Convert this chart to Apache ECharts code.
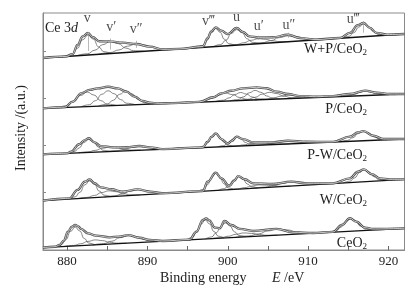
<!DOCTYPE html>
<html><head><meta charset="utf-8">
<script src="https://cdn.jsdelivr.net/npm/echarts@6/dist/echarts.min.js"></script>
<style>html,body{margin:0;padding:0;background:#fff}#c{width:413px;height:290px}</style>
</head><body><div id="c"></div>
<script>
// ---------------- DATA (binding energy eV, intensity a.u.) ----------------
const xTickLabels = [880, 890, 900, 910, 920];
const xTickMarks = [880, 885, 890, 895, 900, 905, 910, 915, 920];
const yTickMarks = [58, 105, 152, 199];
const sampleNames = ['W+P/CeO2', 'P/CeO2', 'P-W/CeO2', 'W/CeO2', 'CeO2'];
const peakNames = ['v', 'v\u2032', 'v\u2033', 'v\u2034', 'u', 'u\u2032', 'u\u2033', 'u\u2034'];
const peakLabelE = [882.5, 885.5, 888.6, 897.6, 901.1, 903.85, 907.6, 915.6];

// background lines (absolute intensity, stacked offsets)
const bgWP = [[877, 192], [922, 216]];
const bgP  = [[877, 141.7], [922, 156]];
const bgPW = [[877, 95.7], [922, 111]];
const bgW  = [[877, 49.3], [922, 70.7]];
const bgCe = [[877, 2.3], [922, 21.7]];

// measured envelopes (intensity above background)
const envWP = [[877,0],[879.9,0],[880.7,2],[881.3,10.7],[881.95,19],[882.6,22],[883.2,17.5],[884.0,13],[885.4,12.2],[886.9,10],[888.6,7.8],[890.3,4.2],[891.9,0.7],[894.0,0],[896.9,0.9],[897.5,9],[897.95,15.5],[898.5,19.2],[899.2,15.5],[900.0,11.7],[901.1,17.2],[901.9,12.7],[902.7,8],[903.8,6.4],[905.6,5.5],[907.5,7],[909.0,2.9],[911.0,0.3],[914.0,0.3],[915.2,4.7],[916.2,11.9],[916.9,13.8],[917.7,8.4],[918.5,3],[919.8,0.6],[922,0]];
const envP = [[877,0],[879.7,0.3],[880.7,5.4],[881.75,13.5],[882.8,16.5],[883.8,17.8],[885.1,19],[886.3,17],[887.4,13.3],[888.4,8],[889.4,3.4],[890.3,1.4],[891.5,0.3],[893.2,0],[896.5,0.3],[898.2,4.3],[899.2,7.9],[900.45,10.1],[901.9,12.1],[903.6,12.5],[904.8,11.2],[906.1,7.4],[907.5,4.6],[909.0,2.1],[911.05,0.8],[913.1,0.8],[915.2,2.2],[917.1,4.9],[918.5,2.4],[920.2,0.6],[922,0]];
const envPW = [[877,0],[880.0,0],[880.5,1.4],[881.5,8.5],[882.2,12.5],[882.7,14.1],[883.4,9.8],[884.2,5.8],[885.7,4],[887.4,3.5],[889.0,4.2],[890.3,2.5],[891.9,0.2],[896.9,0.2],[897.5,5.6],[898.0,10.5],[898.5,13.7],[899.2,7.7],[900.0,3],[900.5,5.5],[901.1,9.4],[901.9,6.8],[903.2,3.1],[905.6,2.3],[907.5,3.2],[909.8,1.4],[913.1,0.2],[915.2,4.6],[916.2,8.5],[916.9,9.7],[918.1,4.6],[919.4,0.9],[922,0]];
const envW = [[877,0],[880.3,0.8],[881.3,8.7],[882.2,16.5],[882.8,18.6],[883.4,14.4],[884.2,10],[885.5,7.4],[886.9,4.3],[888.8,5.8],[890.3,2.7],[891.9,0.4],[896.9,0.2],[897.5,9.2],[898.5,17.8],[899.2,11.8],[900.2,3.7],[900.8,8.5],[901.3,13.1],[902.1,9.5],[903.2,4.9],[905.6,3.1],[907.9,4.3],[909.8,1.8],[913.1,0.2],[915.2,4.2],[916.2,10.3],[916.95,12.4],[917.9,7.2],[918.95,2.4],[920.2,0.8],[922,0]];
const envCe = [[877,0],[878.5,0.3],[879.05,1.8],[879.6,6],[880.1,14.7],[880.6,19.5],[881.0,21],[881.4,19.5],[881.75,16.7],[882.6,12],[883.6,9.2],[885.3,6.8],[886.5,7],[887.6,8.1],[889.0,4.8],[890.3,2],[891.9,0.3],[895.25,0.3],[896.1,7.8],[896.9,19.1],[897.3,20.5],[897.7,18.5],[898.4,10.8],[899.0,9.9],[899.6,17],[900.45,12.6],[901.5,8.2],[903.2,5.4],[906.1,6.2],[908.1,2],[910.6,0.2],[913.1,0.2],[914.2,6.7],[915.2,13],[916.0,9.2],[917.1,2.7],[918.1,1],[922,0]];

// fitted component peaks (intensity above background)
const compWP = [
  [[879.74,0],[880.62,2.2],[881.28,7.4],[881.94,15.6],[882.6,20],[883.26,15.6],[883.92,7.4],[884.58,2.2],[885.46,0]],
  [[881.24,0],[882.52,1.3],[883.48,4.4],[884.44,9.4],[885.4,12],[886.36,9.4],[887.32,4.4],[888.28,1.3],[889.56,0]],
  [[883.92,0],[885.36,0.9],[886.44,3.0],[887.52,6.2],[888.6,8],[889.68,6.2],[890.76,3.0],[891.84,0.9],[893.28,0]],
  [[896.16,0],[896.88,2.0],[897.42,6.7],[897.96,14.0],[898.5,18],[899.04,14.0],[899.58,6.7],[900.12,2.0],[900.84,0]],
  [[898.24,0],[899.12,1.7],[899.78,5.7],[900.44,12.1],[901.1,15.5],[901.76,12.1],[902.42,5.7],[903.08,1.7],[903.96,0]],
  [[899.9,0],[901.1,0.6],[902.0,1.9],[902.9,3.9],[903.8,5],[904.7,3.9],[905.6,1.9],[906.5,0.6],[907.7,0]],
  [[902.82,0],[904.26,0.7],[905.34,2.2],[906.42,4.7],[907.5,6],[908.58,4.7],[909.66,2.2],[910.74,0.7],[912.18,0]],
  [[914.3,0],[915.1,1.4],[915.7,4.7],[916.3,9.9],[916.9,12.7],[917.5,9.9],[918.1,4.7],[918.7,1.4],[919.5,0]]
];
const compP = [
  [[878.86,0],[879.98,1.6],[880.82,5.4],[881.66,11.3],[882.5,14.5],[883.34,11.3],[884.18,5.4],[885.02,1.6],[886.14,0]],
  [[881.72,0],[882.76,1.7],[883.54,5.6],[884.32,11.7],[885.1,15],[885.88,11.7],[886.66,5.6],[887.44,1.7],[888.48,0]],
  [[883.92,0],[884.96,1.5],[885.74,5.2],[886.52,10.9],[887.3,14],[888.08,10.9],[888.86,5.2],[889.64,1.5],[890.68,0]],
  [[895.8,0],[897.0,0.9],[897.9,3.0],[898.8,6.2],[899.7,8],[900.6,6.2],[901.5,3.0],[902.4,0.9],[903.6,0]],
  [[898.48,0],[899.44,0.9],[900.16,3.0],[900.88,6.2],[901.6,8],[902.32,6.2],[903.04,3.0],[903.76,0.9],[904.72,0]],
  [[900.28,0],[901.24,1.0],[901.96,3.5],[902.68,7.4],[903.4,9.5],[904.12,7.4],[904.84,3.5],[905.56,1.0],[906.52,0]],
  [[901.3,0],[902.5,0.8],[903.4,2.6],[904.3,5.5],[905.2,7],[906.1,5.5],[907.0,2.6],[907.9,0.8],[909.1,0]],
  [[903.44,0],[904.72,0.4],[905.68,1.3],[906.64,2.7],[907.6,3.5],[908.56,2.7],[909.52,1.3],[910.48,0.4],[911.76,0]],
  [[914.24,0],[915.12,0.5],[915.78,1.7],[916.44,3.5],[917.1,4.5],[917.76,3.5],[918.42,1.7],[919.08,0.5],[919.96,0]]
];
const compPW = [
  [[880.1,0],[880.9,1.4],[881.5,4.8],[882.1,10.1],[882.7,13],[883.3,10.1],[883.9,4.8],[884.5,1.4],[885.3,0]],
  [[881.4,0],[882.6,0.5],[883.5,1.7],[884.4,3.5],[885.3,4.5],[886.2,3.5],[887.1,1.7],[888.0,0.5],[889.2,0]],
  [[884.84,0],[886.12,0.4],[887.08,1.4],[888.04,3.0],[889.0,3.8],[889.96,3.0],[890.92,1.4],[891.88,0.4],[893.16,0]],
  [[896.42,0],[897.06,1.4],[897.54,4.8],[898.02,10.1],[898.5,13],[898.98,10.1],[899.46,4.8],[899.94,1.4],[900.58,0]],
  [[898.76,0],[899.48,1.0],[900.02,3.3],[900.56,7.0],[901.1,9],[901.64,7.0],[902.18,3.3],[902.72,1.0],[903.44,0]],
  [[899.9,0],[901.1,0.3],[902.0,0.9],[902.9,2.0],[903.8,2.5],[904.7,2.0],[905.6,0.9],[906.5,0.3],[907.7,0]],
  [[902.82,0],[904.26,0.3],[905.34,1.1],[906.42,2.3],[907.5,3],[908.58,2.3],[909.66,1.1],[910.74,0.3],[912.18,0]],
  [[914.04,0],[914.92,1.0],[915.58,3.5],[916.24,7.4],[916.9,9.5],[917.56,7.4],[918.22,3.5],[918.88,1.0],[919.76,0]]
];
const compW = [
  [[880.2,0],[881.0,1.9],[881.6,6.3],[882.2,13.3],[882.8,17],[883.4,13.3],[884.0,6.3],[884.6,1.9],[885.4,0]],
  [[881.3,0],[882.5,0.7],[883.4,2.2],[884.3,4.7],[885.2,6],[886.1,4.7],[887.0,2.2],[887.9,0.7],[889.1,0]],
  [[884.64,0],[885.92,0.6],[886.88,2.0],[887.84,4.3],[888.8,5.5],[889.76,4.3],[890.72,2.0],[891.68,0.6],[892.96,0]],
  [[896.29,0],[896.97,1.9],[897.48,6.3],[897.99,13.3],[898.5,17],[899.01,13.3],[899.52,6.3],[900.03,1.9],[900.71,0]],
  [[898.83,0],[899.59,1.4],[900.16,4.6],[900.73,9.8],[901.3,12.5],[901.87,9.8],[902.44,4.6],[903.01,1.4],[903.77,0]],
  [[900.0,0],[901.2,0.3],[902.1,1.1],[903.0,2.3],[903.9,3],[904.8,2.3],[905.7,1.1],[906.6,0.3],[907.8,0]],
  [[903.22,0],[904.66,0.4],[905.74,1.5],[906.82,3.1],[907.9,4],[908.98,3.1],[910.06,1.5],[911.14,0.4],[912.58,0]],
  [[914.4,0],[915.2,1.3],[915.8,4.4],[916.4,9.4],[917.0,12],[917.6,9.4],[918.2,4.4],[918.8,1.3],[919.6,0]]
];
const compCe = [
  [[878.53,0],[879.29,2.1],[879.86,7.0],[880.43,14.8],[881.0,19],[881.57,14.8],[882.14,7.0],[882.71,2.1],[883.47,0]],
  [[879.6,0],[880.8,0.6],[881.7,1.9],[882.6,3.9],[883.5,5],[884.4,3.9],[885.3,1.9],[886.2,0.6],[887.4,0]],
  [[883.18,0],[884.54,0.8],[885.56,2.8],[886.58,5.9],[887.6,7.5],[888.62,5.9],[889.64,2.8],[890.66,0.8],[892.02,0]],
  [[894.86,0],[895.58,2.1],[896.12,7.0],[896.66,14.8],[897.2,19],[897.74,14.8],[898.28,7.0],[898.82,2.1],[899.54,0]],
  [[897.23,0],[897.99,1.7],[898.56,5.6],[899.13,11.7],[899.7,15],[900.27,11.7],[900.84,5.6],[901.41,1.7],[902.17,0]],
  [[897.84,0],[899.12,0.4],[900.08,1.5],[901.04,3.1],[902.0,4],[902.96,3.1],[903.92,1.5],[904.88,0.4],[906.16,0]],
  [[901.0,0],[902.6,0.7],[903.8,2.2],[905.0,4.7],[906.2,6],[907.4,4.7],[908.6,2.2],[909.8,0.7],[911.4,0]],
  [[912.7,0],[913.5,1.4],[914.1,4.6],[914.7,9.8],[915.3,12.5],[915.9,9.8],[916.5,4.6],[917.1,1.4],[917.9,0]]
];

// ---------------- LAYOUT / STYLE ----------------
const FONT = "'Liberation Serif','Times New Roman','DejaVu Serif',serif";
const peakLabelHeight = [232, 223, 221, 229, 233, 224, 225, 231];   // label placement (a.u.)
const markerComps = [0, 1, 2, 5, 6, 7];
const sampleLabelY = [49, 109, 155, 200, 243];

const spectra = [
  {bg: bgWP, env: envWP, comps: compWP},
  {bg: bgP,  env: envP,  comps: compP},
  {bg: bgPW, env: envPW, comps: compPW},
  {bg: bgW,  env: envW,  comps: compW},
  {bg: bgCe, env: envCe, comps: compCe}
];

function bgAt(bg, e) {
  const [[e0, y0], [e1, y1]] = bg;
  return y0 + (y1 - y0) * (e - e0) / (e1 - e0);
}
function lift(bg, pts) { return pts.map(p => [p[0], p[1] + bgAt(bg, p[0])]); }

const series = [];
spectra.forEach(s => {
  s.comps.forEach(c => series.push({
    type: 'line', data: lift(s.bg, c), smooth: 0.5, smoothMonotone: 'x', symbol: 'none',
    lineStyle: {color: '#5e5e5e', width: 0.75}, z: 2, silent: true
  }));
  series.push({type: 'line', data: s.bg, symbol: 'none', lineStyle: {color: '#111', width: 1.3}, z: 3, silent: true});
  series.push({type: 'line', data: lift(s.bg, s.env), smooth: 0.4, smoothMonotone: 'x', symbol: 'none',
    lineStyle: {color: '#4a4a4a', width: 2.3}, z: 4, silent: true});
  series.push({type: 'line', data: lift(s.bg, s.env), smooth: 0.4, smoothMonotone: 'x', symbol: 'none',
    lineStyle: {color: '#f4f4f4', width: 0.75}, z: 5, silent: true});
});

// marker lines under peak labels (top spectrum)
const markerData = markerComps.map(i => {
  const c = compWP[i];
  let top = c.reduce((a, p) => p[1] > a[1] ? p : a, c[0]);
  const b = bgAt(bgWP, top[0]);
  return [{coord: [top[0], b + top[1] + 3]}, {coord: [top[0], b + 4]}];
});
series.push({type: 'line', data: [], markLine: {silent: true, symbol: 'none', label: {show: false},
  lineStyle: {color: '#8a8a8a', width: 0.6, type: 'solid'}, data: markerData}});

// peak labels
series.push({
  type: 'scatter', symbolSize: 0, silent: true, z: 6,
  data: peakNames.map((n, i) => ({name: n, value: [peakLabelE[i], peakLabelHeight[i]]})),
  label: {show: true, position: 'inside', formatter: '{b}', color: '#222', fontSize: 14, fontFamily: FONT}
});

const subRich = {
  m: {fontSize: 14, fontFamily: FONT, fill: '#222'},
  s: {fontSize: 9, fontFamily: FONT, fill: '#222', padding: [8, 0, 0, 0]}
};
function richName(n) { return n.replace(/O2$/, '{m|O}{s|2}').replace(/^(.*?)\{m\|O\}/, '{m|$1O}'); }

const graphics = sampleNames.map((n, i) => ({
  type: 'text', x: 367, y: sampleLabelY[i], z: 10,
  style: {text: richName(n), align: 'right', verticalAlign: 'middle', rich: subRich}
}));
graphics.push({type: 'text', x: 45, y: 28, z: 10, style: {
  text: '{a|Ce 3}{b|d}', verticalAlign: 'middle',
  rich: {a: {fontSize: 14, fontFamily: FONT, fill: '#222'}, b: {fontSize: 14, fontFamily: FONT, fontStyle: 'italic', fill: '#222'}}}});
graphics.push({type: 'text', x: 21, y: 128, rotation: Math.PI / 2, z: 10, style: {
  text: 'Intensity /(a.u.)', align: 'center', verticalAlign: 'middle', fontSize: 14, fontFamily: FONT, fill: '#222'}});
graphics.push({type: 'text', x: 160, y: 278, z: 10, style: {
  text: 'Binding energy', align: 'left', verticalAlign: 'middle', fontSize: 14, fontFamily: FONT, fill: '#222'}});
graphics.push({type: 'text', x: 272, y: 278, z: 10, style: {
  text: '{i|E}{m| /eV}', align: 'left', verticalAlign: 'middle',
  rich: {i: {fontSize: 14, fontFamily: FONT, fontStyle: 'italic', fill: '#222'}, m: {fontSize: 14, fontFamily: FONT, fill: '#222'}}}});

const chart = echarts.init(document.getElementById('c'), null, {renderer: 'canvas'});
chart.setOption({
  animation: false,
  backgroundColor: '#fff',
  grid: {left: 43, right: 8.5, top: 13, bottom: 40, show: true, borderColor: '#8a8a8a', borderWidth: 1},
  xAxis: {
    type: 'value', min: 877, max: 922,
    axisLine: {show: true, lineStyle: {color: '#8a8a8a', width: 1}},
    axisTick: {show: true, inside: true, length: 4, customValues: xTickMarks, lineStyle: {color: '#666'}},
    axisLabel: {customValues: xTickLabels, color: '#222', fontSize: 13, fontFamily: FONT, margin: 5},
    splitLine: {show: false}
  },
  yAxis: {
    type: 'value', min: 0, max: 237,
    axisLine: {show: true, lineStyle: {color: '#8a8a8a', width: 1}},
    axisTick: {show: true, inside: true, length: 3, customValues: yTickMarks, lineStyle: {color: '#888'}},
    axisLabel: {show: false},
    splitLine: {show: false}
  },
  graphic: graphics,
  series: series
});
</script></body></html>
